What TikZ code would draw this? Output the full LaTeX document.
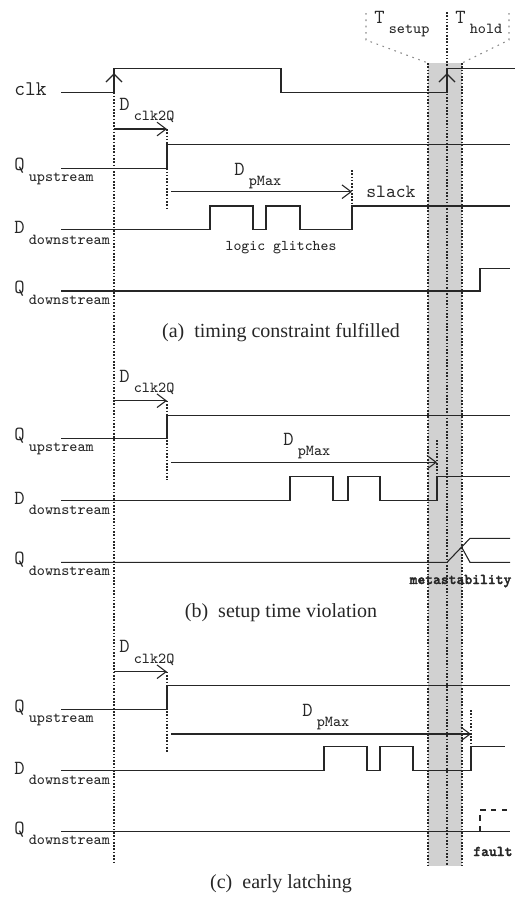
\documentclass[tikz,border=0pt]{standalone}
\usepackage{fontspec}
\newfontfamily\capfont{Liberation Serif}
\newfontfamily\boldtt{lmmonolt10-bold.otf}[FakeBold=2]
\usetikzlibrary{arrows.meta}
\tikzset{
  >={Straight Barb[length=5pt,width=7.5pt]},
  wave/.style={line width=0.6pt, black!85, line join=miter},
  guide/.style={line width=0.6pt, black!85, dash pattern=on 0.9pt off 0.9pt},
  topguide/.style={line width=0.6pt, black!45, dash pattern=on 0.9pt off 2.6pt},
  lbl/.style={anchor=base west, inner sep=0pt, text=black!85},
  txt/.style={anchor=base, inner sep=0pt, text=black!85},
}
\newcommand{\siglbl}[2]{{\fontsize{11}{12}\selectfont\ttfamily #1}\hspace{2.3pt}\raisebox{-6pt}{\fontsize{8.4}{9}\selectfont\ttfamily #2}}

\begin{document}
\begin{tikzpicture}[x=0.55pt,y=-0.55pt]
      \useasboundingbox (0,0) rectangle (516,898);

      % setup / hold window
      \fill [black!18] (428,63) rectangle (462,866);
      \draw [guide] (428,63) -- (428,866);
      \draw [guide] (462,63) -- (462,866);
      \draw [guide] (447,12) -- (447,866);
      \draw [topguide] (366,13) -- (366,40) -- (428,63);
      \draw [topguide] (509,13) -- (509,40) -- (462,63);
      \node [lbl] (tsetup) at (374,23) {\siglbl{T}{setup}};
      \node [lbl] (thold) at (455,23) {\siglbl{T}{hold}};

      % clock
      \draw [guide] (114,92.5) -- (114,862);
      \draw [wave] (61,92.5) -- (114,92.5) -- (114,68.5) -- (281,68.5) -- (281,92.5)
        -- (447,92.5) -- (447,68.5) -- (515,68.5);
      \draw [wave] (106,82) -- (114,74) -- (122,82);
      \draw [wave] (439,82) -- (447,74) -- (455,82);
      \node [lbl] (clk) at (14,95) {\fontsize{11.5}{12}\selectfont\ttfamily clk};

      % (a)
      \node [lbl] (clkqa) at (119,110) {\siglbl{D}{clk2Q}};
      \draw [guide] (167,129) -- (167,210);
      \draw [wave,->] (114,129) -- (167,129);
      \draw [wave] (61,168.3) -- (167,168.3) -- (167,144.5) -- (510,144.5);
      \node [lbl] (qupa) at (14,170.5) {\siglbl{Q}{upstream}};
      \node [lbl] (pmaxa) at (234,175) {\siglbl{D}{pMax}};
      \draw [guide] (352,170) -- (352,206);
      \draw [wave,->] (171,191.7) -- (352,191.7);
      \node [lbl] (slack) at (366,197) {\fontsize{10.3}{11}\selectfont\ttfamily slack};
      \draw [wave] (61,229.5) -- (210,229.5) -- (210,206) -- (253,206) -- (253,229.5)
        -- (266,229.5) -- (266,206) -- (300,206) -- (300,229.5) -- (352,229.5)
        -- (352,206) -- (510,206);
      \node [lbl] (ddowna) at (14,233.5) {\siglbl{D}{downstream}};
      \node [txt] (glitch) at (281,250) {\fontsize{8.2}{9}\selectfont\ttfamily logic glitches};
      \draw [wave] (61,291) -- (480,291) -- (480,268.3) -- (510,268.3);
      \node [lbl] (qdowna) at (14,293.5) {\siglbl{Q}{downstream}};
      \node [txt] (capa) at (281,337) {\capfont\fontsize{11}{12}\selectfont (a)\hspace{0.25em} timing constraint fulfilled};

      % (b)
      \node [lbl] (clkqb) at (119,382) {\siglbl{D}{clk2Q}};
      \draw [guide] (167,400.7) -- (167,480);
      \draw [wave,->] (114,400.7) -- (167,400.7);
      \draw [wave] (61,438.3) -- (167,438.3) -- (167,415.7) -- (510,415.7);
      \node [lbl] (qupb) at (14,440.5) {\siglbl{Q}{upstream}};
      \node [lbl] (pmaxb) at (283,445) {\siglbl{D}{pMax}};
      \draw [guide] (437,440) -- (437,476.7);
      \draw [wave,->] (171,462.3) -- (437,462.3);
      \draw [wave] (61,500.5) -- (290,500.5) -- (290,476.7) -- (333,476.7) -- (333,500.5)
        -- (348,500.5) -- (348,476.7) -- (380,476.7) -- (380,500.5) -- (437,500.5)
        -- (437,476.7) -- (510,476.7);
      \node [lbl] (ddownb) at (14,504) {\siglbl{D}{downstream}};
      \draw [wave] (61,562.3) -- (447,562.3) -- (470,538.3) -- (510,538.3);
      \draw [wave] (461.7,547.3) -- (470,562.3) -- (510,562.3);
      \node [lbl] (qdownb) at (14,564.5) {\siglbl{Q}{downstream}};
      \node [txt] (meta) at (460.5,584) {\fontsize{8.2}{9}\selectfont\boldtt metastability};
      \node [txt] (capb) at (281,617) {\capfont\fontsize{11}{12}\selectfont (b)\hspace{0.25em} setup time violation};

      % (c)
      \node [lbl] (clkqc) at (119,652.7) {\siglbl{D}{clk2Q}};
      \draw [guide] (167,671.7) -- (167,751.7);
      \draw [wave,->] (114,671.7) -- (167,671.7);
      \draw [wave] (61,709.3) -- (167,709.3) -- (167,685.7) -- (510,685.7);
      \node [lbl] (qupc) at (14,712) {\siglbl{Q}{upstream}};
      \node [lbl] (pmaxc) at (302,716) {\siglbl{D}{pMax}};
      \draw [guide] (471,710) -- (471,746.7);
      \draw [wave,->] (171,734) -- (471,734);
      \draw [wave] (61,770.7) -- (324,770.7) -- (324,746.7) -- (367,746.7) -- (367,770.7)
        -- (380,770.7) -- (380,746.7) -- (413,746.7) -- (413,770.7) -- (471,770.7)
        -- (471,746.7) -- (505,746.7);
      \node [lbl] (ddownc) at (14,774) {\siglbl{D}{downstream}};
      \draw [wave] (61,831.7) -- (510,831.7);
      \draw [wave,dashed] (480,831.7) -- (480,810) -- (510,810);
      \node [lbl] (qdownc) at (14,834) {\siglbl{Q}{downstream}};
      \node [lbl] (fault) at (473,856) {\fontsize{8.2}{9}\selectfont\boldtt fault};
      \node [txt] (capc) at (281,888) {\capfont\fontsize{11}{12}\selectfont (c)\hspace{0.25em} early latching};
\end{tikzpicture}
\end{document}
